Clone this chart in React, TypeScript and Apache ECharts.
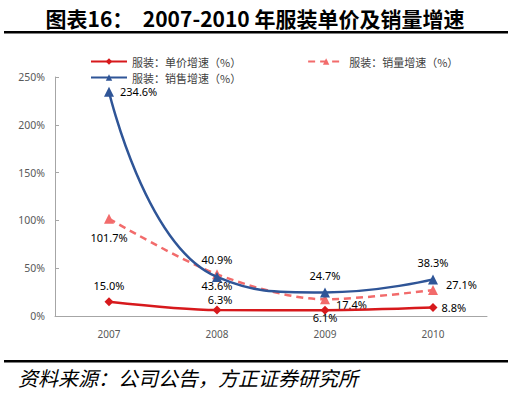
import React, { useEffect, useRef } from "react";
import * as echarts from "echarts";

const years = ["2007", "2008", "2009", "2010"];
const priceGrowth = [15.0, 6.3, 6.1, 8.8];
const volumeGrowth = [101.7, 43.6, 17.4, 27.1];
const salesGrowth = [234.6, 40.9, 24.7, 38.3];
const names = ["服装：单价增速（%）", "服装：销量增速（%）", "服装：销售增速（%）"];

const priceLabelPos = ["top", "top", "bottom", "right"];
const priceLabelDist = [6, 1, 0, 4];
const priceLabelOff = [[0, 0], [3, 1], [0, -3], [0, 0]];
const volumeLabelPos = ["bottom", "bottom", "right", "right"];
const volumeLabelOff = [[0, 0], [0, -8], [-2, 5], [0, -6]];
const salesLabelPos = ["right", "top", "top", "top"];

export default function App() {
  const ref = useRef<HTMLDivElement>(null);
  useEffect(() => {
    if (!ref.current) return;
    const chart = echarts.init(ref.current, null, { renderer: "svg" });
    const labelStyle = { color: "#000", fontSize: 11, fontFamily: "Noto Sans", lineHeight: 12, formatter: (p: any) => p.value.toFixed(1) + "%" };
    chart.setOption({
      animation: false,
      backgroundColor: "#fff",
      title: {
        text: "图表16：  2007-2010 年服装单价及销量增速",
        left: "center",
        top: 2,
        textStyle: { fontFamily: "Noto Sans CJK SC", fontWeight: "bold", fontSize: 21, color: "#000" },
      },
      graphic: [
        { type: "rect", shape: { x: 4, y: 31, width: 504, height: 2.5 }, style: { fill: "#000" } },
        { type: "rect", shape: { x: 4, y: 360, width: 504, height: 2.5 }, style: { fill: "#000" } },
        {
          type: "text",
          x: 18,
          y: 367,
          style: { text: "资料来源：公司公告，方正证券研究所", fontFamily: "Noto Sans CJK SC", fontStyle: "italic", fontSize: 20, fill: "#000" },
        },
      ],
      legend: [
        {
          data: [names[0], names[1]],
          left: 85,
          top: 50,
          itemWidth: 36,
          itemHeight: 8,
          itemGap: 66,
          textStyle: { fontFamily: "Noto Sans CJK SC", fontSize: 11, lineHeight: 13, color: "#404040" },
        },
        {
          data: [names[2]],
          left: 85,
          top: 66,
          itemWidth: 36,
          itemHeight: 8,
          textStyle: { fontFamily: "Noto Sans CJK SC", fontSize: 11, lineHeight: 13, color: "#404040" },
        },
      ],
      grid: { left: 55, right: 23, top: 77, bottom: 82, containLabel: false },
      xAxis: {
        type: "category",
        data: years,
        boundaryGap: true,
        axisLine: { lineStyle: { color: "#a6a6a6" } },
        axisTick: { inside: true, length: 4, lineStyle: { color: "#a6a6a6" } },
        axisLabel: { color: "#595959", fontSize: 10, fontFamily: "Noto Sans", margin: 13 },
      },
      yAxis: {
        type: "value",
        min: 0,
        max: 250,
        interval: 50,
        axisLine: { show: true, lineStyle: { color: "#a6a6a6" } },
        axisTick: { show: true, inside: true, length: 4, lineStyle: { color: "#a6a6a6" } },
        splitLine: { show: false },
        axisLabel: { color: "#595959", fontSize: 10.5, fontFamily: "Noto Sans", formatter: "{value}%", margin: 10 },
      },
      series: [
        {
          name: names[0],
          type: "line",
          smooth: 0.3,
          symbol: "diamond",
          symbolSize: 9,
          color: "#d7191c",
          lineStyle: { width: 2.5, color: "#d7191c" },
          data: priceGrowth.map((v, i) => ({ value: v, label: { position: priceLabelPos[i], distance: priceLabelDist[i], offset: priceLabelOff[i] } })),
          label: { show: true, ...labelStyle },
          z: 3,
        },
        {
          name: names[1],
          type: "line",
          smooth: 0.3,
          symbol: "triangle",
          symbolSize: 10,
          color: "#f26b6b",
          lineStyle: { width: 2.5, type: [7, 5], color: "#f26b6b" },
          data: volumeGrowth.map((v, i) => ({ value: v, label: { position: volumeLabelPos[i], offset: volumeLabelOff[i] } })),
          label: { show: true, distance: 8, ...labelStyle },
          z: 2,
        },
        {
          name: names[2],
          type: "line",
          smooth: 0.5,
          symbol: "triangle",
          symbolSize: 10,
          color: "#2f5597",
          lineStyle: { width: 2.5, color: "#2f5597" },
          data: salesGrowth.map((v, i) => ({ value: v, label: { position: salesLabelPos[i] } })),
          label: { show: true, distance: 6, ...labelStyle },
          z: 4,
        },
      ],
    });
    return () => chart.dispose();
  }, []);
  return <div ref={ref} style={{ width: 510, height: 398, position: "absolute", left: 0, top: 0 }} />;
}
